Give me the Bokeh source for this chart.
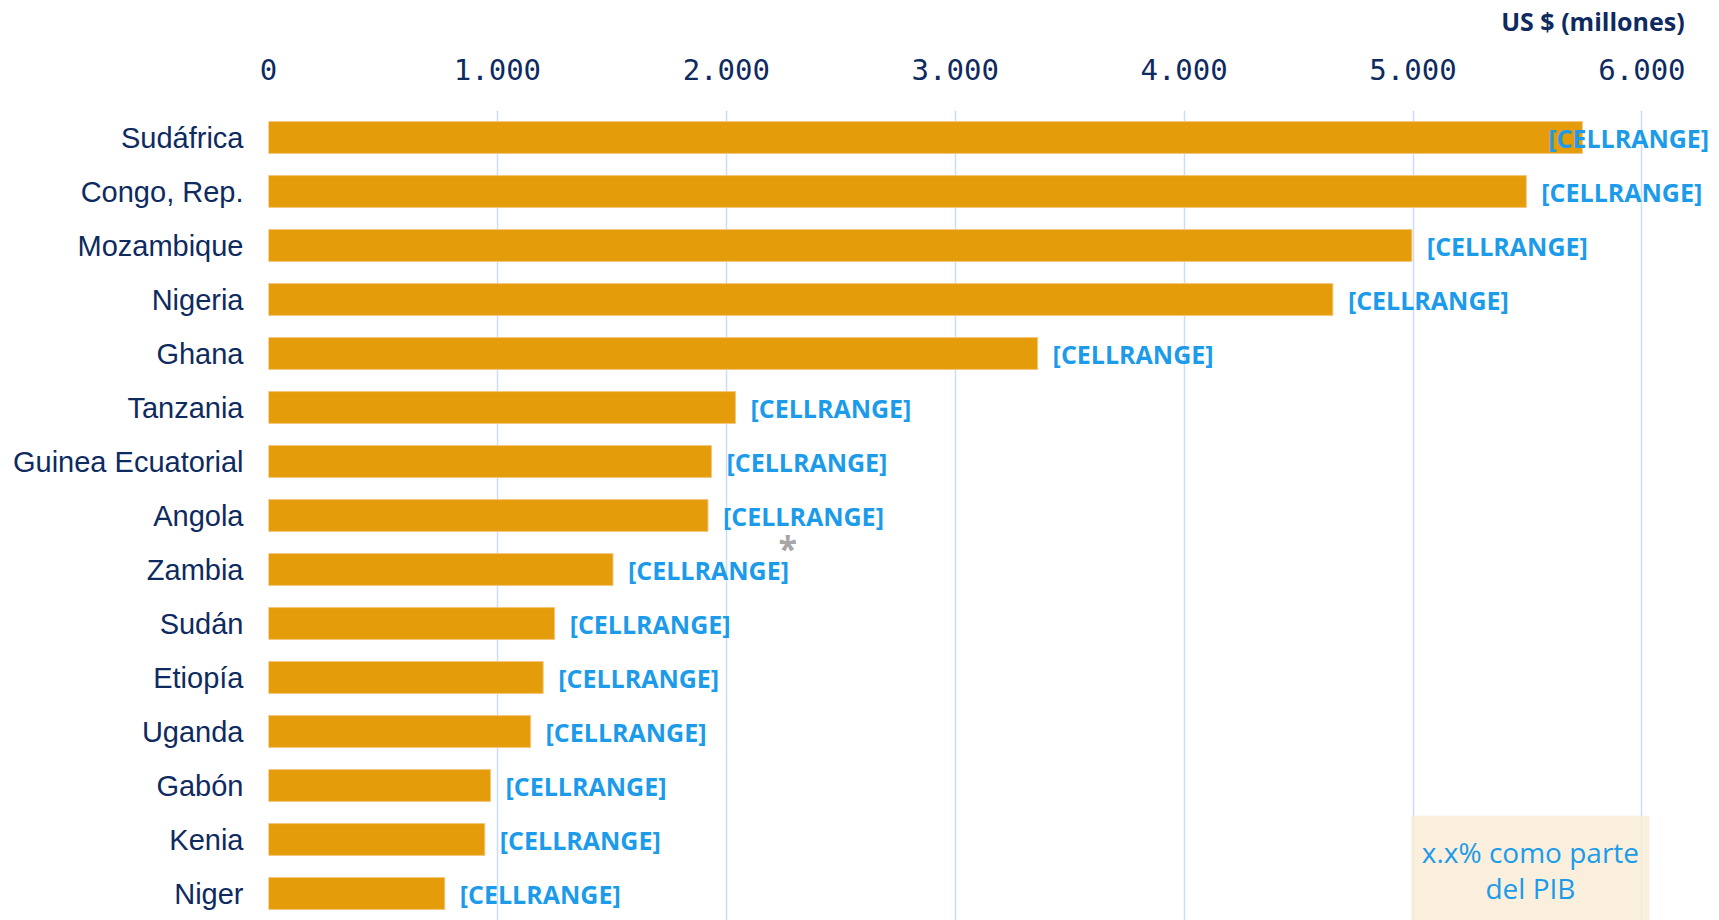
from bokeh.plotting import figure
from bokeh.models import Range1d, FixedTicker, Label, BoxAnnotation, ColumnDataSource, LinearAxis
from bokeh.core.properties import value
from bokeh.embed import file_html
from bokeh.resources import INLINE

# ---- data ----
countries = ["Sudáfrica", "Congo, Rep.", "Mozambique", "Nigeria", "Ghana", "Tanzania",
             "Guinea Ecuatorial", "Angola", "Zambia", "Sudán", "Etiopía", "Uganda",
             "Gabón", "Kenia", "Niger"]
values = [5740, 5495, 4995, 4650, 3360, 2040, 1935, 1920, 1505, 1250, 1200, 1145, 970, 945, 770]
bar_labels = ["[CELLRANGE]"] * len(countries)
tick_values = [0, 1000, 2000, 3000, 4000, 5000, 6000]
tick_labels = ["0", "1.000", "2.000", "3.000", "4.000", "5.000", "6.000"]
unit_title = "US $ (millones)"
note_lines = ["x.x% como parte", "del PIB"]

NAVY = "#0E2A5F"
ORANGE = "#E59C0B"
BLUE = "#1B9BEA"
GRID = "#C9DDF5"

n = len(countries)
ypos = list(range(n))
label_x = [min(v, 5525) for v in values]  # keep right-most label inside the chart like the original

src = ColumnDataSource(dict(y=ypos, v=values, lx=label_x, t=bar_labels))

p = figure(width=1719, height=920, output_backend="svg", toolbar_location=None,
           x_range=Range1d(0, 6339), y_range=Range1d(14.5, -0.5),
           x_axis_location="above",
           min_border_left=268, min_border_top=110, min_border_bottom=0, min_border_right=0)
p.outline_line_color = None
p.background_fill_color = "white"
p.border_fill_color = "white"

# grid
p.ygrid.visible = False
p.xgrid.grid_line_color = GRID
p.xgrid.grid_line_width = 1.5

# x axis (top)
xa = p.xaxis[0]
xa.ticker = FixedTicker(ticks=tick_values)
xa.major_label_overrides = {v: s for v, s in zip(tick_values, tick_labels)}
xa.axis_line_color = None
xa.major_tick_line_color = None
xa.major_tick_out = 0
xa.major_tick_in = 0
xa.minor_tick_line_color = None
xa.major_label_standoff = 31
xa.major_label_text_font = "DejaVu Sans Mono"
xa.major_label_text_font_size = "29px"
xa.major_label_text_color = NAVY

# y axis (left)
ya = p.yaxis[0]
ya.ticker = FixedTicker(ticks=ypos)
ya.major_label_overrides = {i: c for i, c in zip(ypos, countries)}
ya.axis_line_color = None
ya.major_tick_line_color = None
ya.major_tick_out = 0
ya.major_tick_in = 0
ya.minor_tick_line_color = None
ya.major_label_standoff = 25
ya.major_label_text_font = "Liberation Sans"
ya.major_label_text_font_size = "29px"
ya.major_label_text_color = NAVY

# unit title: drawn as the single label of a second, invisible top axis
title_pos = 5786
ax2 = LinearAxis(ticker=FixedTicker(ticks=[title_pos]),
                 major_label_overrides={title_pos: unit_title},
                 axis_line_color=None, major_tick_line_color=None, minor_tick_line_color=None,
                 major_tick_out=0, major_tick_in=0, major_label_standoff=18,
                 major_label_text_font="Open Sans", major_label_text_font_style="bold",
                 major_label_text_font_size="25px", major_label_text_color=NAVY)
p.add_layout(ax2, "above")

# bars
p.hbar(y="y", right="v", left=0, height=0.59, source=src,
       fill_color=ORANGE, line_color="#F2C57A", line_width=1)

# value labels
p.text(x="lx", y="y", text="t", source=src, x_offset=15,
       text_baseline="middle", text_align="left",
       text_font=value("Open Sans"), text_font_style="bold",
       text_font_size="25px", text_color=BLUE)

# asterisk
p.add_layout(Label(x=2268, y=7.6, text="*", text_align="center", text_baseline="middle",
                   text_font="Open Sans", text_font_style="bold", text_font_size="34px",
                   text_color="#A6A6A6"))

# note box
p.add_layout(BoxAnnotation(left=4993, right=6033, top=12.56, bottom=n + 1,
                           fill_color="#F8ECD6", fill_alpha=0.85, line_alpha=0))
p.add_layout(Label(x=5513, y=13.24, text=note_lines[0], text_align="center", text_baseline="middle",
                   text_font="Open Sans", text_font_size="28px", text_color=BLUE))
p.add_layout(Label(x=5513, y=13.89, text=note_lines[1], text_align="center", text_baseline="middle",
                   text_font="Open Sans", text_font_size="28px", text_color=BLUE))

open("out.html", "w").write(file_html(p, INLINE))
